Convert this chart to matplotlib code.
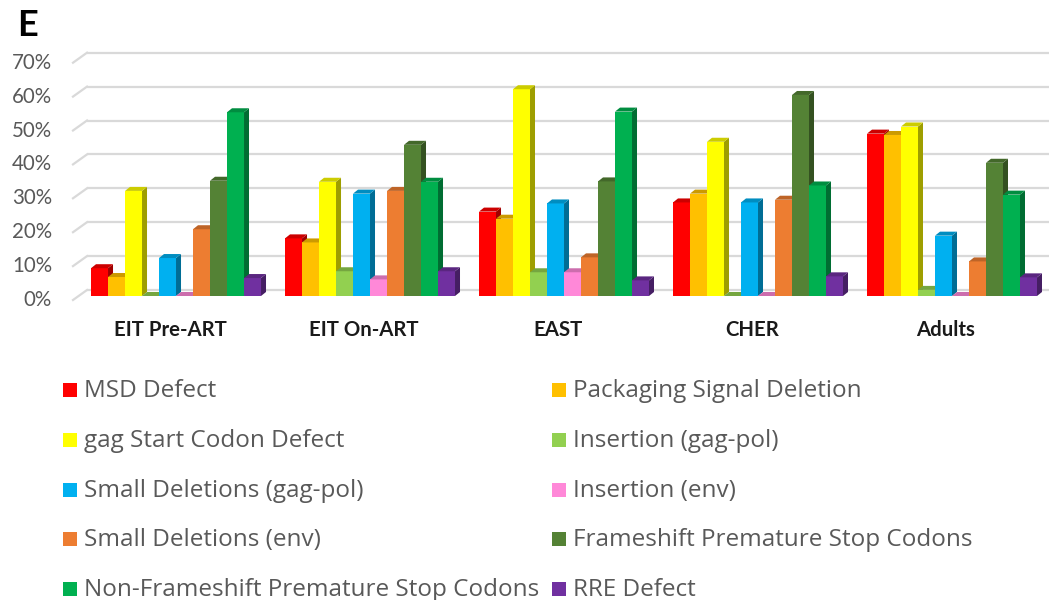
import matplotlib
matplotlib.use("Agg")
import matplotlib.pyplot as plt
from matplotlib.patches import Polygon, Rectangle
from matplotlib.colors import to_rgb
import matplotlib.transforms as mtransforms

# ---- data -------------------------------------------------------------
cohorts = ["EIT Pre-ART", "EIT On-ART", "EAST", "CHER", "Adults"]

defect_types = [
    "MSD Defect",
    "Packaging Signal Deletion",
    "gag Start Codon Defect",
    "Insertion (gag-pol)",
    "Small Deletions (gag-pol)",
    "Insertion (env)",
    "Small Deletions (env)",
    "Frameshift Premature Stop Codons",
    "Non-Frameshift Premature Stop Codons",
    "RRE Defect",
]

msd_defect        = [8.2, 17.0, 24.9, 27.6, 47.9]
packaging_signal  = [5.6, 15.8, 22.8, 30.2, 47.5]
gag_start_codon   = [31.0, 33.7, 61.0, 45.5, 50.0]
insertion_gagpol  = [0.0, 7.3, 7.0, 0.0, 1.8]
small_del_gagpol  = [11.2, 30.2, 27.3, 27.6, 17.8]
insertion_env     = [0.0, 4.9, 7.0, 0.0, 0.0]
small_del_env     = [19.7, 31.0, 11.4, 28.4, 10.2]
frameshift_stop   = [34.0, 44.6, 33.8, 59.3, 39.3]
nonframeshift_stop = [54.2, 33.7, 54.4, 32.6, 29.9]
rre_defect        = [5.3, 7.3, 4.6, 5.8, 5.5]

series = [msd_defect, packaging_signal, gag_start_codon, insertion_gagpol,
          small_del_gagpol, insertion_env, small_del_env, frameshift_stop,
          nonframeshift_stop, rre_defect]

colors = ["#FF0000", "#FFC000", "#FFFF00", "#92D050", "#00B0F0",
          "#FF88D8", "#ED7D31", "#548235", "#00B050", "#7030A0"]

y_ticks = [0, 10, 20, 30, 40, 50, 60, 70]

# ---- figure ------------------------------------------------------------
W, H = 1049, 600
fig = plt.figure(figsize=(W / 100, H / 100), dpi=100)
FONT = "Lato"
LEGEND_FONT = "Open Sans"
GREY = "#595959"

# axes placed in pixel terms (origin top-left)
ax_left, ax_right = 73, 1049
ax_bottom, ax_top = 296, 296 - 7 * 33.9
ax = fig.add_axes([ax_left / W, 1 - ax_bottom / H,
                   (ax_right - ax_left) / W, (ax_bottom - ax_top) / H])
ax.set_xlim(-0.531, 4.5)
ax.set_ylim(0, 70)
ax.axis("off")

px_x = 1 / 194.0      # data units per pixel, x
px_y = 10 / 33.9      # data units per pixel, y


def shade(c, f):
    r, g, b = to_rgb(c)
    return (r * f, g * f, b * f)


# back wall grid lines with short perspective floor edges
grid_c = "#D9D9D9"
gx0 = -0.531
gx1 = gx0 + 14 * px_x
for v in y_ticks:
    yb = v + 6 * px_y
    yf = v - 4 * px_y
    ax.plot([gx1, 4.5], [yb, yb], color=grid_c, lw=1.6, zorder=1,
            clip_on=False, solid_capstyle="butt")
    ax.plot([gx0, gx1], [yf, yb], color=grid_c, lw=1.6, zorder=1,
            clip_on=False)
    ax.text(gx0, yf, f"{v}%", ha="right", va="center", fontsize=14.8,
            color=GREY, family=FONT, transform=ax.transData +
            mtransforms.ScaledTranslation(-0.21, 0, fig.dpi_scale_trans),
            clip_on=False)

# 3-D style clustered columns
bw = 17 * px_x
dx = 5 * px_x
dy = 4 * px_y
n = len(series)
z = 2
for gi in range(len(cohorts)):
    for si, vals in enumerate(series):
        v = vals[gi]
        x0 = gi - n * bw / 2 + si * bw
        x1 = x0 + bw
        c = colors[si]
        ax.bar(x0, v, width=bw, align="edge", color=c, lw=0, zorder=z,
               clip_on=False)
        side = Polygon([(x1, 0), (x1 + dx, dy), (x1 + dx, v + dy), (x1, v)],
                       closed=True, fc=shade(c, 0.62), lw=0, zorder=z,
                       clip_on=False)
        top = Polygon([(x0, v), (x1, v), (x1 + dx, v + dy), (x0 + dx, v + dy)],
                      closed=True, fc=shade(c, 0.8), lw=0, zorder=z,
                      clip_on=False)
        ax.add_patch(side)
        ax.add_patch(top)
        z += 1

# category labels
for gi, name in enumerate(cohorts):
    ax.text(gi - 6 * px_x, -34 * px_y, name, ha="center", va="center",
            fontsize=14.7, fontweight="bold", color="#1A1A1A", family=FONT,
            clip_on=False)

# panel letter
fig.text(17 / W, 1 - 25 / H, "E", ha="left", va="center", fontsize=26,
         fontweight="bold", color="black", family=FONT)

# legend, two columns filled row by row
row_y = [390, 440, 490, 539, 589]
col_x = [63, 552]
for k, (lab, c) in enumerate(zip(defect_types, colors)):
    r, col = divmod(k, 2)
    mx = col_x[col]
    my = row_y[r]
    fig.patches.append(Rectangle((mx / W, 1 - (my + 7) / H), 14 / W, 14 / H,
                                 transform=fig.transFigure, fc=c, lw=0))
    fig.text((mx + 21) / W, 1 - (my + 1) / H, lab, ha="left", va="center",
             fontsize=17.5, color=GREY, family=LEGEND_FONT)

fig.savefig("out.png", dpi=100)
